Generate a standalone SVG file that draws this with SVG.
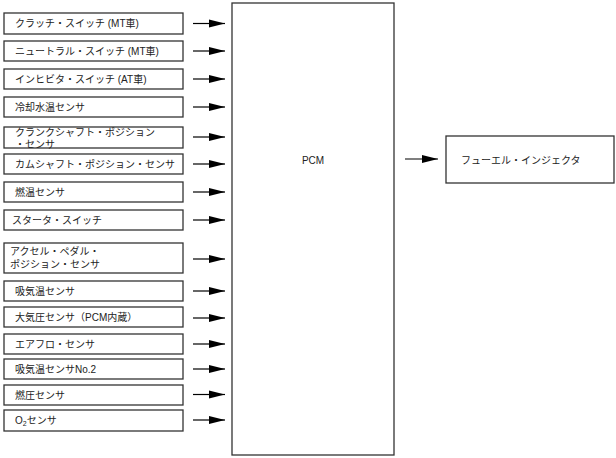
<svg xmlns="http://www.w3.org/2000/svg" width="616" height="458" viewBox="0 0 616 458">
<defs>
<style>
.box{fill:#fff;stroke:#333;stroke-width:1.3}
.t{font-family:"Liberation Sans","Noto Sans CJK JP",sans-serif;font-size:10px;fill:#222}
.ln{stroke:#000;stroke-width:1.2;fill:none}
</style>
<marker id="ah" markerWidth="16" markerHeight="9" refX="16" refY="4.5" orient="auto" markerUnits="userSpaceOnUse">
<path d="M0,0.5 L16,4.5 L0,8.5 Z" fill="#000"/>
</marker>
</defs>
<rect width="616" height="458" fill="#fff"/>
<g id="n1"><rect class="box" x="4" y="13" width="179" height="21"/><text class="t" x="15" y="27">クラッチ・スイッチ (MT車)</text></g>
<g id="n2"><rect class="box" x="4" y="41" width="179" height="20"/><text class="t" x="15" y="54.5">ニュートラル・スイッチ (MT車)</text></g>
<g id="n3"><rect class="box" x="4" y="69" width="179" height="20"/><text class="t" x="15" y="82.5">インヒビタ・スイッチ (AT車)</text></g>
<g id="n4"><rect class="box" x="4" y="97" width="179" height="20"/><text class="t" x="15" y="110.5">冷却水温センサ</text></g>
<g id="n5"><rect class="box" x="4" y="127" width="179" height="21"/><text class="t" x="15" y="135.8">クランクシャフト・ポジション</text><text class="t" x="15" y="147.8">・センサ</text></g>
<g id="n6"><rect class="box" x="4" y="154" width="179" height="20"/><text class="t" x="15" y="167.5">カムシャフト・ポジション・センサ</text></g>
<g id="n7"><rect class="box" x="4" y="182" width="179" height="20"/><text class="t" x="15" y="195.5">燃温センサ</text></g>
<g id="n8"><rect class="box" x="4" y="210" width="179" height="20"/><text class="t" x="12" y="223.5">スタータ・スイッチ</text></g>
<g id="n9"><rect class="box" x="4" y="243" width="179" height="30"/><text class="t" x="10" y="254.5">アクセル・ペダル・</text><text class="t" x="10" y="267.8">ポジション・センサ</text></g>
<g id="n10"><rect class="box" x="4" y="281" width="179" height="20"/><text class="t" x="15" y="294.5">吸気温センサ</text></g>
<g id="n11"><rect class="box" x="4" y="307" width="179" height="20"/><text class="t" x="15" y="320.5">大気圧センサ（PCM内蔵）</text></g>
<g id="n12"><rect class="box" x="4" y="334" width="179" height="20"/><text class="t" x="15" y="347.5">エアフロ・センサ</text></g>
<g id="n13"><rect class="box" x="4" y="359" width="179" height="20"/><text class="t" x="15" y="372.5">吸気温センサNo.2</text></g>
<g id="n14"><rect class="box" x="4" y="385" width="179" height="20"/><text class="t" x="15" y="398.5">燃圧センサ</text></g>
<g id="n15"><rect class="box" x="4" y="410" width="179" height="21"/><text class="t" x="15" y="424">O<tspan font-size="7" dy="2">2</tspan><tspan dy="-2">センサ</tspan></text></g>
<g id="pcm"><rect class="box" x="232" y="3" width="162" height="452"/><text class="t" x="313" y="163.5" text-anchor="middle">PCM</text></g>
<g id="inj"><rect class="box" x="446" y="136" width="168" height="47"/><text class="t" x="461" y="163.5">フューエル・インジェクタ</text></g>
<g id="connectors">
<line class="ln" x1="193" y1="23.5" x2="225" y2="23.5" marker-end="url(#ah)"/>
<line class="ln" x1="193" y1="51" x2="225" y2="51" marker-end="url(#ah)"/>
<line class="ln" x1="193" y1="79" x2="225" y2="79" marker-end="url(#ah)"/>
<line class="ln" x1="193" y1="107" x2="225" y2="107" marker-end="url(#ah)"/>
<line class="ln" x1="193" y1="137" x2="225" y2="137" marker-end="url(#ah)"/>
<line class="ln" x1="193" y1="164" x2="225" y2="164" marker-end="url(#ah)"/>
<line class="ln" x1="193" y1="192" x2="225" y2="192" marker-end="url(#ah)"/>
<line class="ln" x1="193" y1="220" x2="225" y2="220" marker-end="url(#ah)"/>
<line class="ln" x1="193" y1="259" x2="225" y2="259" marker-end="url(#ah)"/>
<line class="ln" x1="193" y1="291" x2="225" y2="291" marker-end="url(#ah)"/>
<line class="ln" x1="193" y1="318" x2="225" y2="318" marker-end="url(#ah)"/>
<line class="ln" x1="193" y1="344" x2="225" y2="344" marker-end="url(#ah)"/>
<line class="ln" x1="193" y1="369" x2="225" y2="369" marker-end="url(#ah)"/>
<line class="ln" x1="193" y1="394.5" x2="225" y2="394.5" marker-end="url(#ah)"/>
<line class="ln" x1="193" y1="420" x2="225" y2="420" marker-end="url(#ah)"/>
<line class="ln" x1="405" y1="159" x2="438" y2="159" marker-end="url(#ah)"/>
</g>
</svg>
